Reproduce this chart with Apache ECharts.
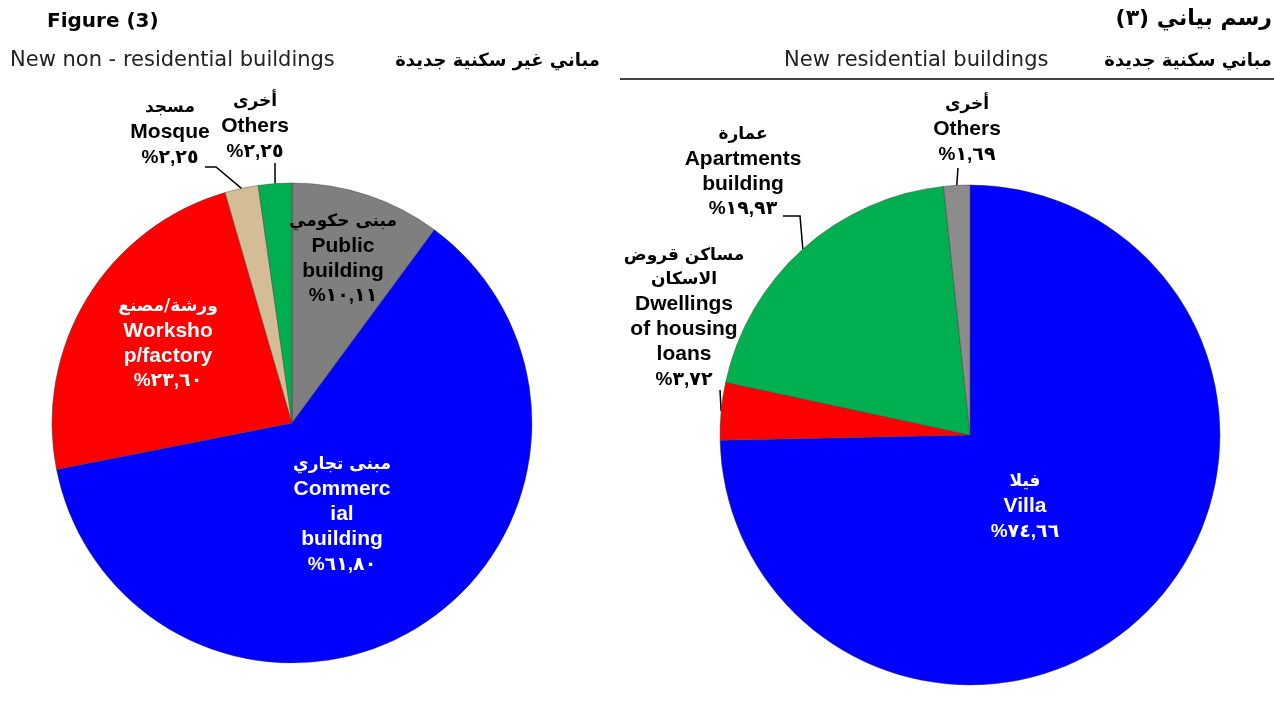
<!DOCTYPE html>
<html>
<head>
<meta charset="utf-8">
<script src="https://cdn.jsdelivr.net/npm/echarts@6/dist/echarts.min.js"></script>
<style>
html, body { margin: 0; padding: 0; background: #fff; }
#chart { width: 1274px; height: 702px; }
</style>
</head>
<body>
<div id="chart"></div>
<script>
// non-residential (left pie), clockwise from 12 o'clock
var nonResNamesAr = ['مبنى حكومي', 'مبنى تجاري', 'ورشة/مصنع', 'مسجد', 'أخرى'];
var nonResNamesEn = ['Public\nbuilding', 'Commerc\nial\nbuilding', 'Worksho\np/factory', 'Mosque', 'Others'];
var nonResValues = [10.11, 61.80, 23.60, 2.25, 2.25];

// residential (right pie)
var resNamesAr = ['فيلا', 'مساكن قروض\nالاسكان', 'عمارة', 'أخرى'];
var resNamesEn = ['Villa', 'Dwellings\nof housing\nloans', 'Apartments\nbuilding', 'Others'];
var resValues = [74.66, 3.72, 19.93, 1.69];

var nonResColors = ['#7f7f7f', '#0000ff', '#ff0000', '#d4bc94', '#00b050'];
var resColors = ['#0000ff', '#ff0000', '#00b050', '#8c8c8c'];
var nonResTextColors = ['#000', '#fff', '#fff', '#000', '#000'];
var resTextColors = ['#fff', '#000', '#000', '#000'];

// label anchor (centre of text block) and leader line elbow, null = inside label
var nonResLabelPos = [[343, 259], [342, 515], [168, 344], [170, 133], [255, 127]];
var nonResElbow = [null, null, null, [[216, 167], [205, 167]], [[275, 163]]];
var resLabelPos = [[1025, 507], [684, 318], [743, 172], [967, 130]];
var resElbow = [null, [[720, 390]], [[800, 216], [783, 216]], [[958, 168]]];

var chart = echarts.init(document.getElementById('chart'));

var FONT = '"Liberation Sans", "DejaVu Sans", Arial, sans-serif';
var AR_FONT = '"DejaVu Sans", "Noto Sans", sans-serif';

function arDigits(v) {
    var d = '٠١٢٣٤٥٦٧٨٩';
    return v.toFixed(2).replace(/[0-9]/g, function (c) { return d[+c]; }).replace('.', ',');
}

// arabic words as separate tokens; the rich line comes out mirrored,
// so feed them reversed to get the word order of the picture
function arLine(line, st) {
    var toks = [];
    line.split(' ').forEach(function (w, wi) {
        if (wi > 0) toks.push(' ');
        w.split('/').forEach(function (p, pi) {
            if (pi > 0) toks.push('/');
            toks.push(p);
        });
    });
    toks.reverse();
    return toks.map(function (t, k) {
        return '{' + st + (k % 2 ? 'B' : 'A') + '|' + t + '}';
    }).join('');
}

function makeLabel(ar, en, v) {
    var lines = [];
    ar.split('\n').forEach(function (l) { lines.push(arLine(l, 'ar')); });
    en.split('\n').forEach(function (l) { lines.push('{en|' + l + '}'); });
    lines.push('{pc|%' + arDigits(v) + '}');
    return lines.join('\n');
}

var arStyle = { fontFamily: AR_FONT, fontSize: 17, fontWeight: 'bold', lineHeight: 24 };
var rich = {
    arA: arStyle,
    arB: arStyle,
    en: { fontFamily: FONT, fontSize: 21, fontWeight: 'bold', lineHeight: 25 },
    pc: { fontFamily: FONT, fontSize: 19, fontWeight: 'bold', lineHeight: 25 }
};

function buildSeries(center, radius, names, namesEn, values, colors, txtColors, pos, elbow) {
    return {
        type: 'pie',
        center: center,
        radius: radius,
        startAngle: 90,
        clockwise: true,
        animation: false,
        silent: true,
        itemStyle: { borderColor: 'rgba(60,60,60,0.45)', borderWidth: 1 },
        data: values.map(function (v, i) {
            return {
                value: v,
                name: namesEn[i],
                itemStyle: { color: colors[i] },
                label: {
                    show: true,
                    position: elbow[i] ? 'outside' : 'inside',
                    color: txtColors[i],
                    fontFamily: FONT,
                    fontWeight: 'bold',
                    fontSize: 20,
                    align: 'center',
                    overflow: 'none',
                    formatter: function () { return makeLabel(names[i], namesEn[i], v); },
                    rich: rich
                },
                labelLine: { show: !!elbow[i], lineStyle: { color: '#000', width: 1.5 }, smooth: false }
            };
        }),
        labelLayout: function (p) {
            var i = p.dataIndex;
            var out = { x: pos[i][0], y: pos[i][1], align: 'center', verticalAlign: 'middle' };
            if (elbow[i] && p.labelLinePoints) {
                out.labelLinePoints = [p.labelLinePoints[0]].concat(elbow[i]);
            }
            return out;
        }
    };
}

function titleRich(size) {
    var s = { font: 'bold ' + size + 'px "DejaVu Sans"', fill: '#000' };
    return { tA: s, tB: s };
}

var option = {
    backgroundColor: '#fff',
    series: [
        buildSeries([292, 423], 240, nonResNamesAr, nonResNamesEn, nonResValues, nonResColors, nonResTextColors, nonResLabelPos, nonResElbow),
        buildSeries([970, 435], 250, resNamesAr, resNamesEn, resValues, resColors, resTextColors, resLabelPos, resElbow)
    ],
    graphic: [
        { type: 'text', x: 47, y: 22, style: { text: 'Figure (3)', font: 'bold 20px "DejaVu Sans"', fill: '#000', verticalAlign: 'middle' } },
        { type: 'text', x: 10, y: 61, style: { text: 'New non - residential buildings', font: '21px "DejaVu Sans"', fill: '#222', verticalAlign: 'middle' } },
        { type: 'text', x: 600, y: 61, style: {
            text: arLine('مباني غير سكنية جديدة', 't'), font: 'bold 18px "DejaVu Sans"', fill: '#000', align: 'right', verticalAlign: 'middle',
            rich: titleRich(18) } },
        { type: 'text', x: 1272, y: 19, style: {
            text: arLine('رسم بياني (٣)', 't'), font: 'bold 22px "DejaVu Sans"', fill: '#000', align: 'right', verticalAlign: 'middle',
            rich: titleRich(22) } },
        { type: 'text', x: 784, y: 61, style: { text: 'New residential buildings', font: '21px "DejaVu Sans"', fill: '#222', verticalAlign: 'middle' } },
        { type: 'text', x: 1272, y: 61, style: {
            text: arLine('مباني سكنية جديدة', 't'), font: 'bold 18px "DejaVu Sans"', fill: '#000', align: 'right', verticalAlign: 'middle',
            rich: titleRich(18) } },
        { type: 'line', shape: { x1: 620, y1: 79, x2: 1274, y2: 79 }, style: { stroke: '#000', lineWidth: 1.5 } }
    ]
};

chart.setOption(option);
</script>
</body>
</html>
